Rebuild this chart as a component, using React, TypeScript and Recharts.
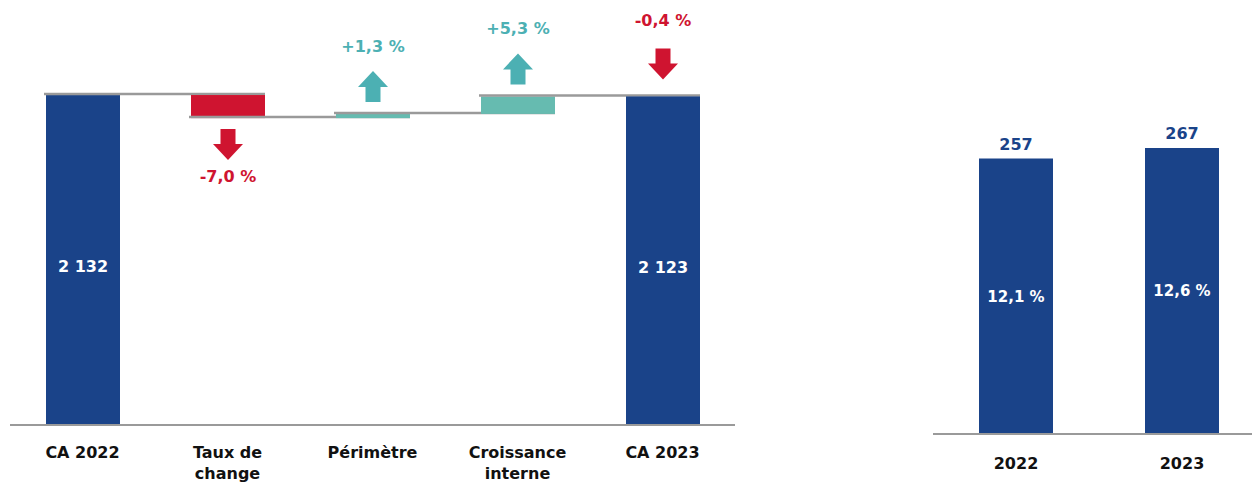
import React from "react";
import { Bar, BarChart, ComposedChart, LabelList, XAxis, YAxis } from "recharts";

// waterfall: chiffre d'affaires
const bridgeCategories = ["CA 2022", "Taux de\nchange", "Périmètre", "Croissance\ninterne", "CA 2023"];
const bridgeValues = [2132, -149, 27, 113, 2123];
const bridgeIsTotal = [true, false, false, false, true];
const bridgeChangeLabels = ["", "-7,0 %", "+1,3 %", "+5,3 %", "-0,4 %"];

// résultat opérationnel
const resultYears = ["2022", "2023"];
const resultValues = [257, 267];
const resultMargins = [12.1, 12.6];

const NAVY = "#1a4389";
const RED = "#cf1430";
const TEAL_BAR = "#66bbb0";
const TEAL = "#4cb0b3";
const GREY = "#9a9a9a";
const FONT = "'DejaVu Sans', sans-serif";

const LEFT_W = 740;
const LEFT_MARGIN = { top: 0, right: 5, bottom: 0, left: 10 };
const BAND = (LEFT_W - LEFT_MARGIN.left - LEFT_MARGIN.right) / bridgeCategories.length;
const BAR_W = 74;

const fmt = (v: number) => String(v).replace(/\B(?=(\d{3})+(?!\d))/g, " ");

let running = 0;
const bridgeData = bridgeCategories.map((name, i) => {
  const v = bridgeValues[i];
  if (bridgeIsTotal[i]) {
    running = v;
    return { name, base: 0, size: v, value: v, total: true, change: bridgeChangeLabels[i] };
  }
  const start = running;
  running = start + v;
  return { name, base: Math.min(start, running), size: Math.abs(v), value: v, total: false, change: bridgeChangeLabels[i] };
});

const arrowUp = (cx: number, yb: number) =>
  `M${cx - 7.5},${yb} L${cx + 7.5},${yb} L${cx + 7.5},${yb - 15} L${cx + 15},${yb - 15} L${cx},${yb - 31} L${cx - 15},${yb - 15} L${cx - 7.5},${yb - 15} Z`;
const arrowDown = (cx: number, yt: number) =>
  `M${cx - 7.5},${yt} L${cx + 7.5},${yt} L${cx + 7.5},${yt + 15} L${cx + 15},${yt + 15} L${cx},${yt + 31} L${cx - 15},${yt + 15} L${cx - 7.5},${yt + 15} Z`;

function ChangeText({ x, y, color, children }: any) {
  return (
    <text x={x} y={y} textAnchor="middle" fill={color} fontSize={16} fontWeight={700} fontFamily={FONT}>
      {children}
    </text>
  );
}

function StepShape(props: any) {
  const { x, y, width, height, payload, index } = props;
  const cx = x + width / 2;
  const fill = payload.total ? NAVY : payload.value < 0 ? RED : TEAL_BAR;
  const endY = payload.total || payload.value > 0 ? y : y + height;
  const down = payload.change.startsWith("-");
  const color = down ? RED : TEAL;
  let arrow = null;
  if (payload.change) {
    if (!payload.total && down) {
      const top = y + height + 11;
      arrow = (
        <g>
          <path d={arrowDown(cx, top)} fill={color} />
          <ChangeText x={cx} y={top + 53} color={color}>{payload.change}</ChangeText>
        </g>
      );
    } else if (down) {
      const top = y - 17 - 31;
      arrow = (
        <g>
          <path d={arrowDown(cx, top)} fill={color} />
          <ChangeText x={cx} y={top - 22} color={color}>{payload.change}</ChangeText>
        </g>
      );
    } else {
      const bottom = y - 12;
      arrow = (
        <g>
          <path d={arrowUp(cx, bottom)} fill={color} />
          <ChangeText x={cx} y={bottom - 31 - 19} color={color}>{payload.change}</ChangeText>
        </g>
      );
    }
  }
  return (
    <g>
      <rect x={x} y={y} width={width} height={height} fill={fill} />
      {index < bridgeCategories.length - 1 && (
        <line x1={x - 2} x2={x + BAND + width} y1={endY - 1} y2={endY - 1} stroke={GREY} strokeWidth={2.5} />
      )}
      {arrow}
      {payload.total && (
        <text x={cx} y={y + height / 2 + 12} textAnchor="middle" fill="#fff" fontSize={16} fontWeight={700} fontFamily={FONT}>
          {fmt(payload.value)}
        </text>
      )}
    </g>
  );
}

function CategoryTick(props: any) {
  const { x, y, payload } = props;
  const lines = String(payload.value).split("\n");
  return (
    <text x={x} y={y + 25} textAnchor="middle" fill="#111" fontSize={16} fontWeight={700} fontFamily={FONT}>
      {lines.map((l, i) => (
        <tspan key={i} x={x} dy={i === 0 ? 0 : 21}>
          {l}
        </tspan>
      ))}
    </text>
  );
}

const resultData = resultYears.map((year, i) => ({ year, value: resultValues[i], margin: resultMargins[i] }));

export default function App() {
  return (
    <div style={{ position: "absolute", left: 0, top: 0, width: 1252, height: 486, overflow: "hidden", background: "#fff" }}>
      <div style={{ position: "absolute", left: 0, top: 0 }}>
        <ComposedChart width={LEFT_W} height={486} data={bridgeData} margin={LEFT_MARGIN} barCategoryGap={0}>
          <XAxis
            dataKey="name"
            height={61}
            tickLine={false}
            axisLine={{ stroke: GREY, strokeWidth: 2 }}
            interval={0}
            tick={<CategoryTick />}
          />
          <YAxis hide domain={[0, 2746]} />
          <Bar dataKey="base" stackId="a" fill="transparent" barSize={BAR_W} isAnimationActive={false} />
          <Bar dataKey="size" stackId="a" barSize={BAR_W} shape={<StepShape />} isAnimationActive={false} />
        </ComposedChart>
      </div>
      <div style={{ position: "absolute", left: 933, top: 0, width: 319, height: 486, overflow: "hidden" }}>
        <BarChart width={332} height={486} data={resultData} margin={{ top: 0, right: 0, bottom: 0, left: 0 }}>
          <XAxis
            dataKey="year"
            height={52}
            tickLine={false}
            axisLine={{ stroke: GREY, strokeWidth: 2 }}
            tick={{ fill: "#111", fontSize: 16, fontWeight: 700, fontFamily: FONT }}
            dy={16}
          />
          <YAxis hide domain={[0, 405]} />
          <Bar dataKey="value" fill={NAVY} barSize={74} isAnimationActive={false}>
            <LabelList dataKey="value" position="top" offset={9} fill={NAVY} fontSize={16} fontWeight={700} fontFamily={FONT} />
            <LabelList
              dataKey="margin"
              position="center"
              fill="#fff"
              fontSize={15}
              fontWeight={700}
              fontFamily={FONT}
              formatter={(v: any) => `${Number(v).toFixed(1).replace(".", ",")} %`}
            />
          </Bar>
        </BarChart>
      </div>
    </div>
  );
}
